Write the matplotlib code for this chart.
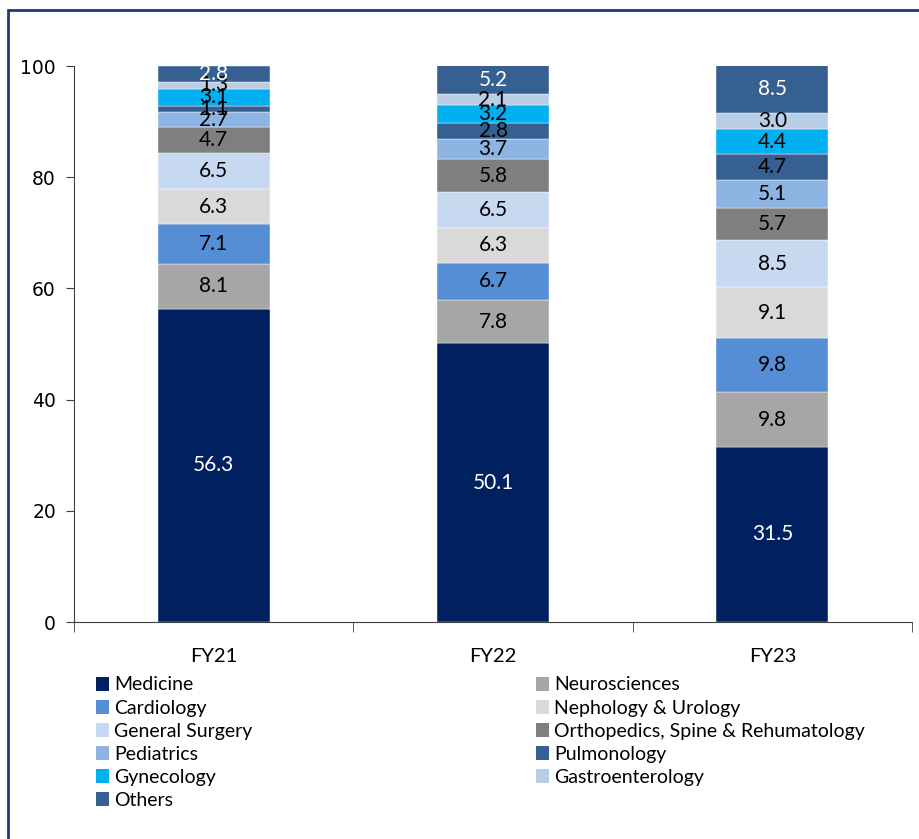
import matplotlib.pyplot as plt
from matplotlib.patches import Patch, Rectangle
import numpy as np

years = ['FY21', 'FY22', 'FY23']

segments = ['Medicine', 'Neurosciences', 'Cardiology', 'Nephology & Urology',
            'General Surgery', 'Orthopedics, Spine & Rehumatology', 'Pediatrics',
            'Pulmonology', 'Gynecology', 'Gastroenterology', 'Others']

medicine = [56.3, 50.1, 31.5]
neurosciences = [8.1, 7.8, 9.8]
cardiology = [7.1, 6.7, 9.8]
nephology = [6.3, 6.3, 9.1]
general_surgery = [6.5, 6.5, 8.5]
orthopedics = [4.7, 5.8, 5.7]
pediatrics = [2.7, 3.7, 5.1]
pulmonology = [1.1, 2.8, 4.7]
gynecology = [3.1, 3.2, 4.4]
gastro = [1.3, 2.1, 3.0]
others = [2.8, 5.2, 8.5]

series = [medicine, neurosciences, cardiology, nephology, general_surgery,
          orthopedics, pediatrics, pulmonology, gynecology, gastro, others]

colors = ['#002060', '#A6A6A6', '#558ED5', '#D9D9D9', '#C6D9F1', '#7F7F7F',
          '#8EB4E3', '#376092', '#00B0F0', '#B9CDE5', '#376092']
label_colors = ['white', 'black', 'black', 'black', 'black', 'black',
                'black', 'black', 'black', 'black', 'white']

W, H = 919, 839
fig = plt.figure(figsize=(W / 100, H / 100), dpi=100)
ax = fig.add_axes([74 / W, 1 - 622 / H, (912 - 74) / W, (622 - 66) / H])

x = np.arange(len(years))
bottom = np.zeros(len(years))
for vals, col, lcol in zip(series, colors, label_colors):
    bars = ax.bar(x, vals, 0.4, bottom=bottom, color=col,
                  edgecolor='white', linewidth=0.3)
    ax.bar_label(bars, fmt='%.1f', label_type='center', color=lcol,
                 fontsize=15, family='Lato')
    bottom += np.array(vals)

ax.set_xlim(-0.5, len(years) - 0.5)
ax.set_ylim(0, 100)
ax.set_yticks(range(0, 101, 20))
ax.tick_params(axis='y', labelsize=13.5, length=6, color='#404040', pad=7)

# category labels centred, tick marks on the boundaries
ax.set_xticks(x)
ax.set_xticklabels(years, family='Lato', fontsize=14.5)
ax.tick_params(axis='x', which='major', length=0, pad=19)
ax.set_xticks(np.arange(-0.5, len(years)), minor=True)
ax.tick_params(axis='x', which='minor', length=7, color='#404040')

for side in ['top', 'right']:
    ax.spines[side].set_visible(False)
for side in ['left', 'bottom']:
    ax.spines[side].set_color('#404040')

# legend split in two columns
handles = [Patch(facecolor=c, edgecolor='none') for c in colors]
left_idx = [0, 2, 4, 6, 8, 10]
right_idx = [1, 3, 5, 7, 9]
for idx, xpos in [(left_idx, 78), (right_idx, 518)]:
    leg = fig.legend([handles[i] for i in idx], [segments[i] for i in idx],
                     loc='upper left', bbox_to_anchor=(xpos / W, 1 - 659 / H),
                     frameon=False, handlelength=0.7, handleheight=0.7,
                     handletextpad=0.25, labelspacing=0.31,
                     prop={'family': 'Lato', 'size': 14})

# outer frame
fig.patches.append(Rectangle((8 / W, -0.05), 1.0, 1 - 10 / H + 0.05,
                             transform=fig.transFigure, fill=False,
                             edgecolor='#1F3A7A', linewidth=2))

fig.savefig('out.png', dpi=100)
